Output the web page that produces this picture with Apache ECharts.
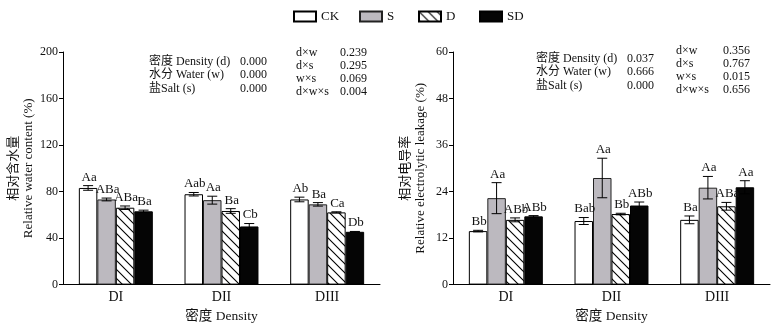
<!DOCTYPE html>
<html><head><meta charset="utf-8">
<script src="https://cdn.jsdelivr.net/npm/echarts@6/dist/echarts.min.js"></script>
<style>html,body{margin:0;padding:0;background:#fff}#c{width:779px;height:328px}</style>
</head><body><div id="c"></div>
<script>
// ---- data ----
const categories = ['DI', 'DII', 'DIII'];
const seriesNames = ['CK', 'S', 'D', 'SD'];

// Relative water content (%)
const rwcCK = [83.1, 77.7, 73.2];
const rwcS  = [73.2, 72.6, 69.0];
const rwcD  = [66.1, 63.3, 62.1];
const rwcSD = [63.0, 50.0, 45.4];
const rwcErrCK = [2.0, 1.5, 2.0];
const rwcErrS  = [1.2, 3.4, 1.5];
const rwcErrD  = [1.5, 2.0, 0.5];
const rwcErrSD = [1.0, 2.5, 0.3];
const rwcLetCK = ['Aa', 'Aab', 'Ab'];
const rwcLetS  = ['ABa', 'Aa', 'Ba'];
const rwcLetD  = ['ABa', 'Ba', 'Ca'];
const rwcLetSD = ['Ba', 'Cb', 'Db'];

// Relative electrolytic leakage (%)
const relCK = [13.8, 16.4, 16.7];
const relS  = [22.3, 27.5, 25.0];
const relD  = [16.7, 18.2, 20.2];
const relSD = [17.6, 20.4, 25.1];
const relErrCK = [0.2, 0.9, 1.0];
const relErrS  = [4.0, 5.1, 2.9];
const relErrD  = [0.5, 0.2, 1.0];
const relErrSD = [0.2, 0.9, 1.7];
const relLetCK = ['Bb', 'Bab', 'Ba'];
const relLetS  = ['Aa', 'Aa', 'Aa'];
const relLetD  = ['ABb', 'Bb', 'ABa'];
const relLetSD = ['ABb', 'ABb', 'Aa'];

// axis ticks
const rwcTicks = [0, 40, 80, 120, 160, 200];
const relTicks = [0, 12, 24, 36, 48, 60];

// ANOVA annotation texts
const factorNames = ['密度 Density (d)', '水分 Water (w)', '盐Salt (s)'];
const interactionNames = ['d×w', 'd×s', 'w×s', 'd×w×s'];
const rwcMainP = ['0.000', '0.000', '0.000'];
const rwcInterP = ['0.239', '0.295', '0.069', '0.004'];
const relMainP = ['0.037', '0.666', '0.000'];
const relInterP = ['0.356', '0.767', '0.015', '0.656'];

// ---- styling ----
const FONT = '"Liberation Serif", "Noto Sans CJK SC", serif';
const TXT = '#111';

function hatch() {
  const n = 9;
  const c = document.createElement('canvas');
  c.width = n; c.height = n;
  const g = c.getContext('2d');
  g.fillStyle = '#fff'; g.fillRect(0, 0, n, n);
  g.strokeStyle = '#000'; g.lineWidth = 1.1;
  g.beginPath();
  g.moveTo(-1, -1); g.lineTo(n + 1, n + 1);
  g.moveTo(n - 1, -1); g.lineTo(n + 1, 1);
  g.moveTo(-1, n - 1); g.lineTo(1, n + 1);
  g.stroke();
  return c;
}
const hatchImg = hatch();

const barStyles = [
  { color: '#ffffff', borderColor: '#000', borderWidth: 1 },
  { color: '#bcb9bf', borderColor: '#222', borderWidth: 1 },
  { color: { image: hatchImg, repeat: 'repeat' }, borderColor: '#000', borderWidth: 1 },
  { color: '#050505', borderColor: '#000', borderWidth: 1 }
];

const BAR_FRAC = 0.7;

function barSeries(gridIdx, vals) {
  return vals.map((v, i) => ({
    name: seriesNames[i], type: 'bar', xAxisIndex: gridIdx, yAxisIndex: gridIdx,
    data: v, barGap: '0%', barCategoryGap: '30%',
    itemStyle: barStyles[i], emphasis: { disabled: true }, z: 2
  }));
}

function errSeries(gridIdx, vals, errs, lets) {
  const data = [];
  for (let s = 0; s < 4; s++)
    for (let c = 0; c < categories.length; c++)
      data.push([c, vals[s][c], errs[s][c], s]);
  return {
    type: 'custom', xAxisIndex: gridIdx, yAxisIndex: gridIdx, z: 5, silent: true,
    encode: { x: 0, y: 1 },
    data: data,
    renderItem: function (params, api) {
      const c = api.value(0), v = api.value(1), e = api.value(2), s = api.value(3);
      const band = api.size([1, 0])[0];
      const bw = band * BAR_FRAC / 4;
      const base = api.coord([c, v]);
      const cx = base[0] + (s - 1.5) * bw;
      const top = api.coord([c, v + e])[1];
      const bot = api.coord([c, v - e])[1];
      const cap = 5;
      const ls = { stroke: '#000', lineWidth: 1 };
      return {
        type: 'group',
        children: [
          { type: 'line', shape: { x1: cx, y1: top, x2: cx, y2: bot }, style: ls },
          { type: 'line', shape: { x1: cx - cap, y1: top, x2: cx + cap, y2: top }, style: ls },
          { type: 'line', shape: { x1: cx - cap, y1: bot, x2: cx + cap, y2: bot }, style: ls },
          { type: 'text', style: { text: lets[s][c], x: cx + 1, y: top - 2, align: 'center', verticalAlign: 'bottom',
            font: '13px ' + FONT, fill: TXT } }
        ]
      };
    }
  };
}

function annot(x1, x2, ys, names, vals) {
  const out = [];
  names.forEach((n, i) => {
    out.push({ type: 'text', left: x1, top: ys[i] - 7, style: { text: n, font: '12px ' + FONT, fill: TXT } });
    out.push({ type: 'text', left: x2, top: ys[i] - 7, style: { text: vals[i], font: '12px ' + FONT, fill: TXT } });
  });
  return out;
}

const grids = [
  { left: 63, top: 52, width: 317, height: 235 },
  { left: 453, top: 52, width: 317, height: 235 }
];

function xAx(idx) {
  return {
    type: 'category', gridIndex: idx, data: categories,
    axisLine: { lineStyle: { color: '#000', width: 1 } },
    axisTick: { show: false },
    axisLabel: { color: TXT, fontFamily: FONT, fontSize: 14, margin: 6 },
    name: '密度 Density', nameLocation: 'middle', nameGap: 21,
    nameTextStyle: { color: TXT, fontFamily: FONT, fontSize: 13.5 }
  };
}
function yAx(idx, ticks, name) {
  return {
    type: 'value', gridIndex: idx, min: ticks[0], max: ticks[ticks.length - 1],
    interval: ticks[1] - ticks[0],
    axisLine: { show: true, lineStyle: { color: '#000', width: 1 } },
    axisTick: { show: true, length: 4, lineStyle: { color: '#000' } },
    splitLine: { show: false },
    axisLabel: { color: TXT, fontFamily: FONT, fontSize: 12, margin: 5 },
    name: name, nameLocation: 'middle', nameRotate: 90, nameGap: 25,
    nameTextStyle: { color: TXT, fontFamily: FONT, fontSize: 13, lineHeight: 15 }
  };
}

const legendLefts = [293, 359, 418, 479];
const legends = seriesNames.map((n, i) => ({
  data: [n], left: legendLefts[i], top: 10, padding: 0, icon: 'rect',
  itemWidth: 22, itemHeight: 10, selectedMode: false,
  textStyle: { color: TXT, fontFamily: FONT, fontSize: 13 }
}));

const chart = echarts.init(document.getElementById('c'), null, { renderer: 'canvas' });
chart.setOption({
  animation: false,
  backgroundColor: '#fff',
  legend: legends,
  grid: grids,
  xAxis: [xAx(0), xAx(1)],
  yAxis: [yAx(0, rwcTicks, '相对含水量\nRelative water content (%)'),
          yAx(1, relTicks, '相对电导率\nRelative electrolytic leakage (%)')],
  series: [
    ...barSeries(0, [rwcCK, rwcS, rwcD, rwcSD]),
    ...barSeries(1, [relCK, relS, relD, relSD]),
    errSeries(0, [rwcCK, rwcS, rwcD, rwcSD], [rwcErrCK, rwcErrS, rwcErrD, rwcErrSD], [rwcLetCK, rwcLetS, rwcLetD, rwcLetSD]),
    errSeries(1, [relCK, relS, relD, relSD], [relErrCK, relErrS, relErrD, relErrSD], [relLetCK, relLetS, relLetD, relLetSD])
  ],
  graphic: [
    ...annot(149, 240, [63, 76.3, 89.6], factorNames, rwcMainP),
    ...annot(296, 340, [54, 67.3, 80.3, 93.3], interactionNames, rwcInterP),
    ...annot(536, 627, [60, 73.3, 86.6], factorNames, relMainP),
    ...annot(676, 723, [51.7, 65, 77.7, 91], interactionNames, relInterP)
  ]
});
</script></body></html>
